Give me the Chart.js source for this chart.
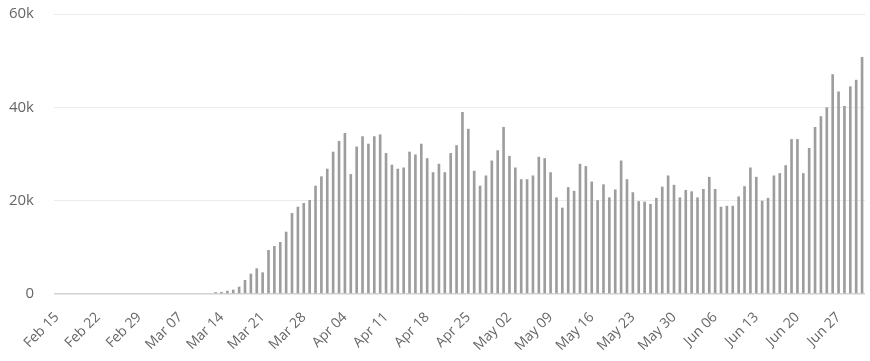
<!DOCTYPE html>
<html>
<head>
<meta charset="utf-8">
<script src="https://cdn.jsdelivr.net/npm/chart.js@4/dist/chart.umd.min.js"></script>
<style>
  body { margin: 0; background: #fff; }
  #wrap { width: 870px; height: 361px; }
</style>
</head>
<body>
<div id="wrap"><canvas id="chart" width="870" height="361"></canvas></div>
<script>
'use strict';

// one bar per day, Feb 15 – Jul 1
const days = [
  'Feb 15','Feb 16','Feb 17','Feb 18','Feb 19','Feb 20','Feb 21','Feb 22','Feb 23','Feb 24','Feb 25','Feb 26','Feb 27','Feb 28','Feb 29',
  'Mar 01','Mar 02','Mar 03','Mar 04','Mar 05','Mar 06','Mar 07','Mar 08','Mar 09','Mar 10','Mar 11','Mar 12','Mar 13','Mar 14','Mar 15',
  'Mar 16','Mar 17','Mar 18','Mar 19','Mar 20','Mar 21','Mar 22','Mar 23','Mar 24','Mar 25','Mar 26','Mar 27','Mar 28','Mar 29','Mar 30','Mar 31',
  'Apr 01','Apr 02','Apr 03','Apr 04','Apr 05','Apr 06','Apr 07','Apr 08','Apr 09','Apr 10','Apr 11','Apr 12','Apr 13','Apr 14','Apr 15',
  'Apr 16','Apr 17','Apr 18','Apr 19','Apr 20','Apr 21','Apr 22','Apr 23','Apr 24','Apr 25','Apr 26','Apr 27','Apr 28','Apr 29','Apr 30',
  'May 01','May 02','May 03','May 04','May 05','May 06','May 07','May 08','May 09','May 10','May 11','May 12','May 13','May 14','May 15',
  'May 16','May 17','May 18','May 19','May 20','May 21','May 22','May 23','May 24','May 25','May 26','May 27','May 28','May 29','May 30','May 31',
  'Jun 01','Jun 02','Jun 03','Jun 04','Jun 05','Jun 06','Jun 07','Jun 08','Jun 09','Jun 10','Jun 11','Jun 12','Jun 13','Jun 14','Jun 15',
  'Jun 16','Jun 17','Jun 18','Jun 19','Jun 20','Jun 21','Jun 22','Jun 23','Jun 24','Jun 25','Jun 26','Jun 27','Jun 28','Jun 29','Jun 30',
  'Jul 01'
];

// which day labels are shown on the x axis
const tickDays = ['Feb 15','Feb 22','Feb 29','Mar 07','Mar 14','Mar 21','Mar 28','Apr 04','Apr 11','Apr 18',
  'Apr 25','May 02','May 09','May 16','May 23','May 30','Jun 06','Jun 13','Jun 20','Jun 27'];

const newCases = [
  0, 0, 0, 0, 0, 0, 0, 0, 0, 0, 0, 0, 0, 0, 0,
  0, 0, 0, 0, 0, 0, 0, 0, 0, 0, 0, 0, 400, 450, 700,
  930, 1570, 3000, 4360, 5500, 4640, 9430, 10290, 11140, 13350, 17350, 18700, 19500, 20140, 23200, 25200,
  26850, 30500, 32800, 34500, 25700, 31600, 33800, 32200, 33800, 34200, 30200, 27700, 26850, 27100, 30500,
  29900, 32200, 29100, 26100, 27900, 26100, 30200, 31900, 39000, 35400, 26400, 23200, 25400, 28600, 30800,
  35800, 29600, 27100, 24600, 24600, 25400, 29400, 29100, 26100, 20700, 18500, 22900, 22100, 27900, 27400,
  24100, 20100, 23500, 20700, 22400, 28600, 24600, 21800, 19900, 19800, 19300, 20600, 23000, 25400, 23400, 20700,
  22300, 22000, 20700, 22500, 25100, 22500, 18700, 18900, 18900, 20900, 23100, 27100, 25100, 20000, 20600,
  25400, 25900, 27600, 33200, 33200, 25900, 31300, 35800, 38100, 40000, 47100, 43400, 40300, 44500, 45900,
  50800
];

const yTicks = [0, 20000, 40000, 60000];

new Chart(document.getElementById('chart'), {
  type: 'bar',
  data: {
    labels: days,
    datasets: [{
      data: newCases,
      backgroundColor: '#9d9d9d',
      barPercentage: 0.45,
      categoryPercentage: 1.0
    }]
  },
  options: {
    responsive: false,
    animation: false,
    devicePixelRatio: 1,
    layout: { padding: { top: 14, right: 5, left: 0, bottom: 0 } },
    plugins: {
      legend: { display: false },
      tooltip: { enabled: false }
    },
    scales: {
      x: {
        grid: { display: false, drawTicks: false },
        border: { display: false },
        ticks: {
          autoSkip: false,
          minRotation: 45,
          maxRotation: 45,
          padding: 15,
          color: '#666',
          font: { family: '"Open Sans", sans-serif', size: 14 },
          callback: function (v, i) {
            const d = days[i];
            return tickDays.includes(d) ? d : '';
          }
        },
        afterFit: (s) => {
          s.height = 67;
          s.paddingTop = 0; s.paddingBottom = 0; s.paddingLeft = 0; s.paddingRight = 0;
        }
      },
      y: {
        min: yTicks[0],
        max: yTicks[yTicks.length - 1],
        afterBuildTicks: (s) => { s.ticks = yTicks.map((v) => ({ value: v })); },
        grid: {
          drawTicks: false,
          color: (c) => c.tick && c.tick.value === 0 ? '#d2d2d2' : '#eeeaea',
          lineWidth: (c) => c.tick && c.tick.value === 0 ? 1.5 : 1
        },
        border: { display: false },
        ticks: {
          padding: 20,
          color: '#666',
          font: { family: '"Open Sans", sans-serif', size: 15 },
          callback: (v) => v === 0 ? '0' : (v / 1000) + 'k'
        },
        afterFit: (s) => {
          s.width = 54;
          s.paddingTop = 0; s.paddingBottom = 0; s.paddingLeft = 0; s.paddingRight = 0;
        }
      }
    }
  }
});
</script>
</body>
</html>
